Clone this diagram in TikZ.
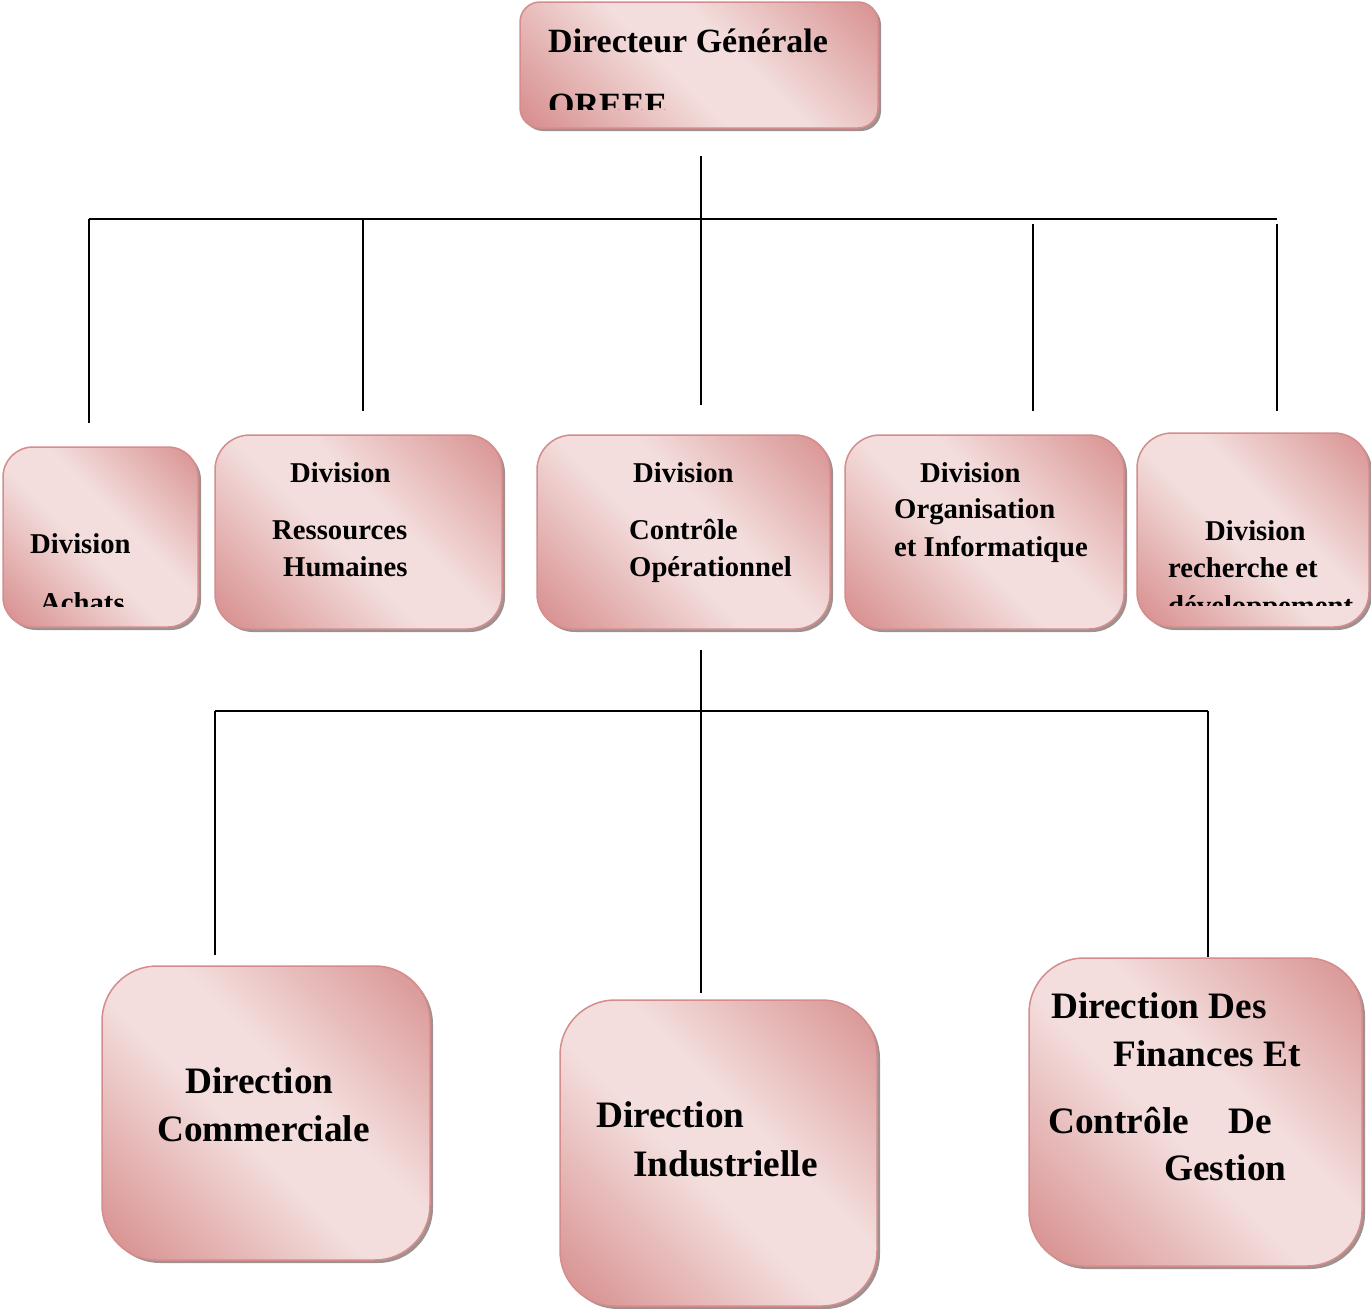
\documentclass[tikz,border=0pt]{standalone}
\usepackage{fontspec}
\setmainfont{Liberation Serif}
\usetikzlibrary{shadows}
\definecolor{pdark}{RGB}{216,146,145}
\definecolor{plight}{RGB}{243,222,221}
\definecolor{pborder}{RGB}{212,140,140}
\definecolor{pshadow}{RGB}{160,145,145}
\pgfdeclarehorizontalshading{pinkgrad}{100bp}{color(0bp)=(pdark); color(17bp)=(pdark); color(45bp)=(plight); color(57bp)=(plight); color(85bp)=(pdark); color(100bp)=(pdark)}
\tikzset{
  pinkbox/.style={draw=pborder, line width=1.5pt, shading=pinkgrad, shading angle=45,
    drop shadow={shadow xshift=3pt, shadow yshift=-3pt, fill=pshadow, opacity=1},
    inner sep=0pt},
  lbltop/.style={anchor=base west, inner sep=0pt, font=\bfseries\fontsize{34}{38}\selectfont},
  lbldiv/.style={anchor=base west, inner sep=0pt, font=\bfseries\fontsize{28.7}{34}\selectfont},
  lblbig/.style={anchor=base west, inner sep=0pt, font=\bfseries\fontsize{37.3}{44}\selectfont},
  conn/.style={draw=black, line width=1.5pt}
}
\begin{document}
\begin{tikzpicture}[x=1pt,y=-1pt]
\useasboundingbox (0,0) rectangle (1371,1309);
% boxes
\node[pinkbox, rounded corners=20pt, minimum width=358pt, minimum height=126pt] (top) at (699,65) {};
\node[pinkbox, rounded corners=30pt, minimum width=195pt, minimum height=180pt] (achats) at (100.5,537) {};
\node[pinkbox, rounded corners=35pt, minimum width=287pt, minimum height=194pt] (rh) at (358.5,532) {};
\node[pinkbox, rounded corners=35pt, minimum width=293pt, minimum height=194pt] (co) at (683.5,532) {};
\node[pinkbox, rounded corners=35pt, minimum width=279pt, minimum height=194pt] (org) at (984.5,532) {};
\node[pinkbox, rounded corners=35pt, minimum width=232pt, minimum height=194pt] (rech) at (1253,530) {};
\node[pinkbox, rounded corners=55pt, minimum width=328pt, minimum height=294pt] (comm) at (266,1113) {};
\node[pinkbox, rounded corners=55pt, minimum width=317pt, minimum height=306pt] (ind) at (718.5,1153) {};
\node[pinkbox, rounded corners=55pt, minimum width=333pt, minimum height=308pt] (fin) at (1195.5,1112) {};
% texts
\node[lbltop] (t1) at (548,52) {Directeur Générale};
\begin{scope}
  \clip (520,2) rectangle (878,109);
  \node[lbltop] (t2) at (548,116) {OREEE};
\end{scope}
\node[lbldiv] (a1) at (30,553) {Division};
\begin{scope}
  \clip (3,447) rectangle (198,606);
  \node[lbldiv] (a2) at (40,612) {Achats};
\end{scope}
\node[lbldiv] (r1) at (290,482) {Division};
\node[lbldiv] (r2) at (272,539) {Ressources};
\node[lbldiv] (r3) at (283,576) {Humaines};
\node[lbldiv] (o1) at (633,482) {Division};
\node[lbldiv] (o2) at (629,539) {Contrôle};
\node[lbldiv] (o3) at (629,576) {Opérationnel};
\node[lbldiv] (g1) at (920,482) {Division};
\node[lbldiv] (g2) at (894,518) {Organisation};
\node[lbldiv] (g3) at (894,556) {et Informatique};
\node[lbldiv] (d1) at (1205,540) {Division};
\node[lbldiv] (d2) at (1168,577) {recherche et};
\begin{scope}
  \clip (1137,433) rectangle (1369,605);
  \node[lbldiv] (d3) at (1168,615) {développement};
\end{scope}
\node[lblbig] (m1) at (185,1093) {Direction};
\node[lblbig] (m2) at (157,1141) {Commerciale};
\node[lblbig] (i1) at (596,1127) {Direction};
\node[lblbig] (i2) at (633,1176) {Industrielle};
\node[lblbig] (f1) at (1051,1018) {Direction Des};
\node[lblbig] (f2) at (1113,1066) {Finances Et};
\node[lblbig] (f3) at (1048,1133) {Contrôle};
\node[lblbig] (f4) at (1228,1133) {De};
\node[lblbig] (f5) at (1164,1180) {Gestion};
% connector coordinates
\coordinate (ta) at (701,156);
\coordinate (tb) at (701,219);
\coordinate (hl) at (89,219);
\coordinate (hr) at (1277,219);
\coordinate (v1a) at (89,219);   \coordinate (v1b) at (89,423);
\coordinate (v2a) at (363,219);  \coordinate (v2b) at (363,411);
\coordinate (v3a) at (701,219);  \coordinate (v3b) at (701,405);
\coordinate (v4a) at (1033,224); \coordinate (v4b) at (1033,411);
\coordinate (v5a) at (1277,224); \coordinate (v5b) at (1277,411);
\coordinate (sa) at (701,650);
\coordinate (sb) at (701,711);
\coordinate (sl) at (215,711);
\coordinate (sr) at (1208,711);
\coordinate (w1b) at (215,955);
\coordinate (w2b) at (701,993);
\coordinate (w3b) at (1208,957);
% connectors
\draw[conn] (ta) -- (tb);
\draw[conn] (hl) -- (hr);
\draw[conn] (v1a) -- (v1b);
\draw[conn] (v2a) -- (v2b);
\draw[conn] (v3a) -- (v3b);
\draw[conn] (v4a) -- (v4b);
\draw[conn] (v5a) -- (v5b);
\draw[conn] (sa) -- (sb);
\draw[conn] (sl) -- (sr);
\draw[conn] (sl) -- (w1b);
\draw[conn] (sb) -- (w2b);
\draw[conn] (sr) -- (w3b);
\end{tikzpicture}
\end{document}
